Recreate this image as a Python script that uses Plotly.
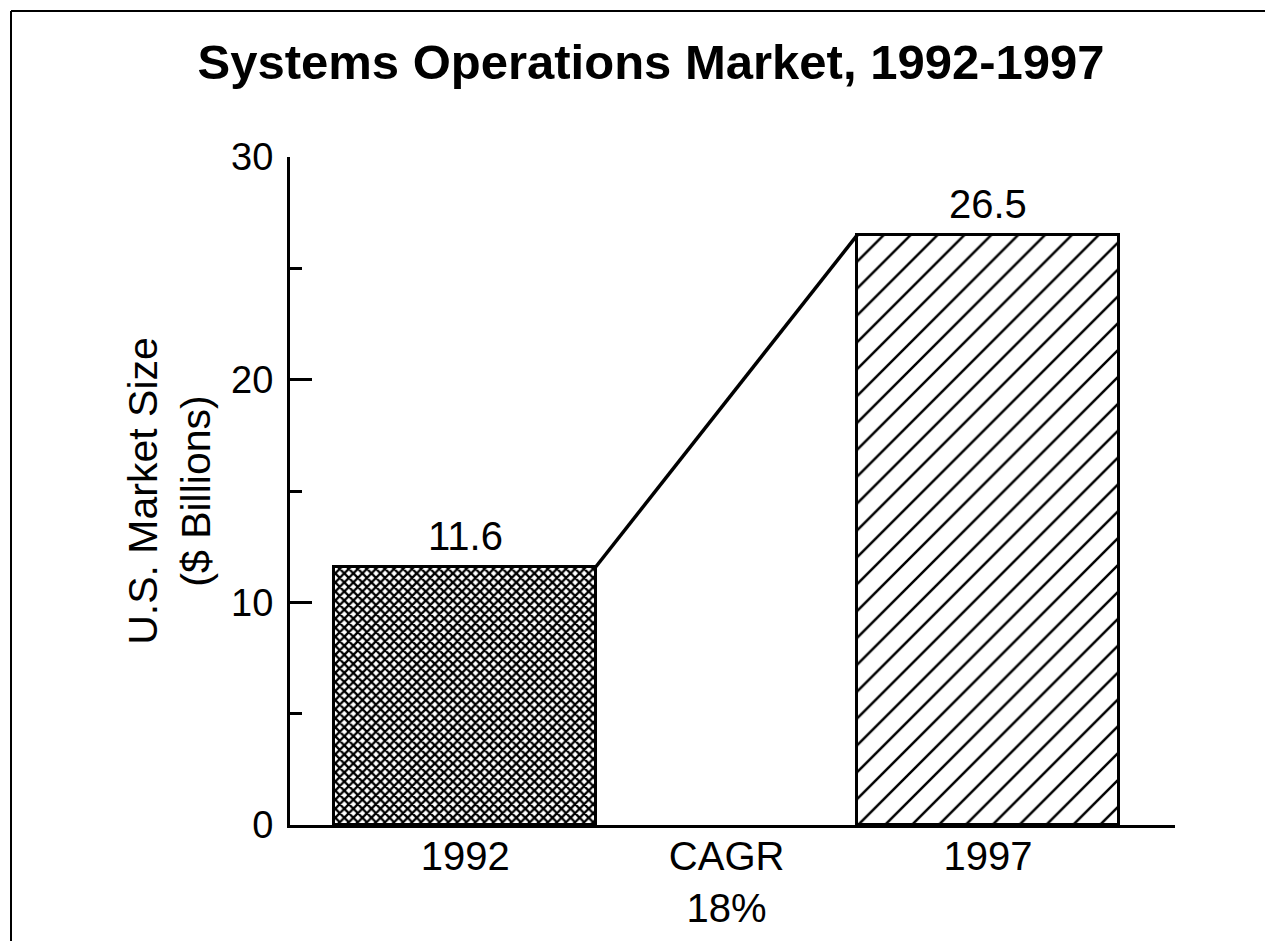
import plotly.graph_objects as go

# ---- data ----
categories = ["1992", "CAGR<br>18%", "1997"]
years = ["1992", "1997"]
market_size = [11.6, 26.5]          # $ billions
value_labels = ["11.6", "26.5"]
y_tick_vals = [0, 10, 20, 30]
y_tick_text = ["0", "10", "20", "30"]

title_text = "<b>Systems Operations Market, 1992-1997</b>"
y_title = "U.S. Market Size<br>($ Billions)"

# positions of the categories on a numeric axis
cat_pos = list(range(len(categories)))
bar_pos = [cat_pos[0], cat_pos[2]]
bar_width = 1.0

FONT = "Liberation Sans, Arial, Helvetica, sans-serif"

# figure is placed at an 8px page offset -> size & margins account for it
W, H = 1265, 933
ML, MT, MR, MB = 282, 149, 98, 116
PW, PH = W - ML - MR, H - MT - MB

fig = go.Figure()

fig.add_trace(go.Bar(
    x=[bar_pos[0]], y=[market_size[0]], width=bar_width,
    marker=dict(color="white",
                line=dict(color="black", width=3),
                pattern=dict(shape="x", size=6.4, solidity=0.6,
                             fgcolor="black", bgcolor="white", fillmode="replace")),
    showlegend=False, hoverinfo="skip",
))
fig.add_trace(go.Bar(
    x=[bar_pos[1]], y=[market_size[1]], width=bar_width,
    marker=dict(color="white",
                line=dict(color="black", width=3),
                pattern=dict(shape="/", size=19, solidity=0.13,
                             fgcolor="black", bgcolor="white", fillmode="replace")),
    showlegend=False, hoverinfo="skip",
))

# connector line between the bar tops (CAGR)
fig.add_trace(go.Scatter(
    x=[bar_pos[0] + bar_width / 2, bar_pos[1] - bar_width / 2],
    y=[market_size[0], market_size[1]],
    mode="lines", line=dict(color="black", width=3.5),
    showlegend=False, hoverinfo="skip", cliponaxis=False,
))

# value labels above bars
for xp, v, lab in zip(bar_pos, market_size, value_labels):
    fig.add_annotation(x=xp, y=v, text=lab, showarrow=False,
                       yanchor="bottom", yshift=7,
                       font=dict(family=FONT, size=40, color="black"))

# frame (top and left edges of the scanned page border)
fx = (3 - ML) / PW
fy = (PH + MT - 3) / PH
fig.add_shape(type="line", xref="paper", yref="paper",
              x0=fx, x1=(W + 10 - ML) / PW, y0=fy, y1=fy,
              line=dict(color="black", width=2))
fig.add_shape(type="line", xref="paper", yref="paper",
              x0=fx, x1=fx, y0=fy, y1=-(MB + 10) / PH,
              line=dict(color="black", width=2))

fig.update_layout(
    width=W, height=H,
    margin=dict(l=ML, r=MR, t=MT, b=MB, autoexpand=False),
    paper_bgcolor="white", plot_bgcolor="white",
    font=dict(family=FONT, size=40, color="black"),
    title=dict(text=title_text, x=(651 - 8) / W, xanchor="center",
               y=1 - (62 - 8) / H, yanchor="middle", xref="container", yref="container",
               font=dict(family=FONT, size=49, color="black"), automargin=False),
    bargap=0,
)

fig.update_xaxes(
    range=[-0.67, 2.715], tickmode="array", tickvals=cat_pos, ticktext=categories,
    showline=True, linecolor="black", linewidth=3, ticks="", showgrid=False,
    zeroline=False, tickfont=dict(family=FONT, size=40, color="black"),
    ticklabelstandoff=-6,
    automargin=False,
)
fig.update_yaxes(
    range=[0, 30], tickmode="array", tickvals=y_tick_vals, ticktext=y_tick_text,
    showline=True, linecolor="black", linewidth=3, ticks="inside", ticklen=22,
    tickwidth=3, tickcolor="black", showgrid=False, zeroline=False,
    minor=dict(ticks="inside", ticklen=12, tickwidth=2.5, tickcolor="black",
               dtick=5, tick0=0, showgrid=False),
    tickfont=dict(family=FONT, size=38, color="black"),
    ticklabelstandoff=6,
    title=dict(text=y_title, standoff=8, font=dict(family=FONT, size=41, color="black")),
    automargin=False,
)

fig.write_html("out.html")
